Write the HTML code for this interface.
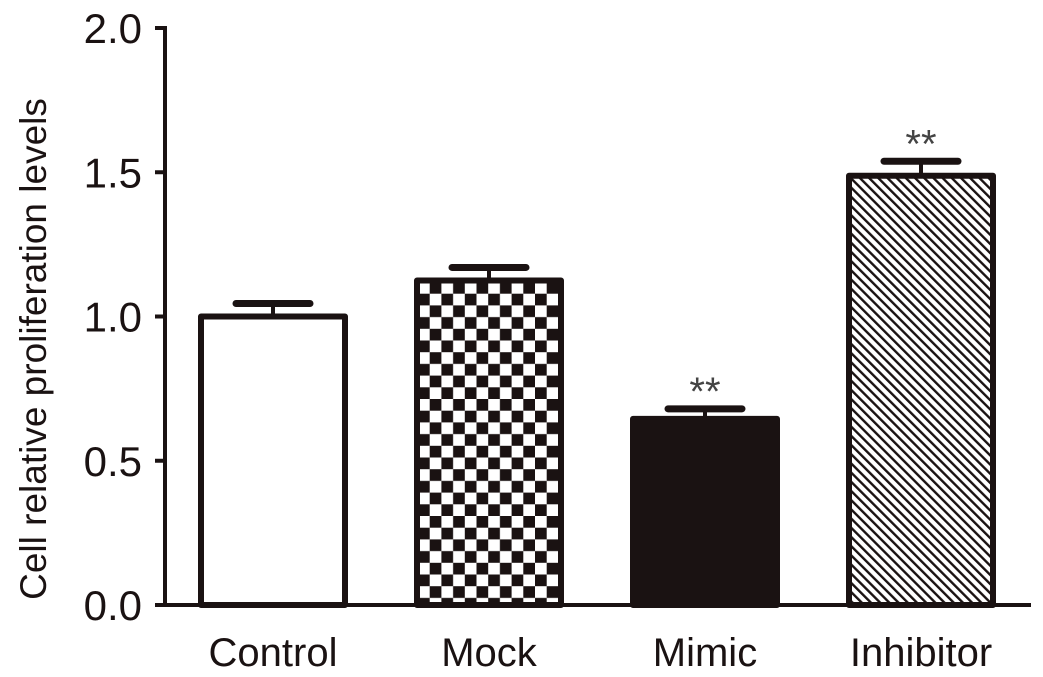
<!DOCTYPE html>
<html><head><meta charset="utf-8"><style>
body{margin:0;background:#fff}
svg{display:block;font-family:"Liberation Sans",Arial,sans-serif}
</style></head><body>
<svg id="chart" width="1043" height="677" viewBox="0 0 1043 677">
<defs>
<pattern id="checker" width="23.4" height="23.4" patternUnits="userSpaceOnUse" x="418" y="282">
<rect width="23.4" height="23.4" fill="#fff"/>
<rect x="11.7" y="0" width="11.7" height="11.7" fill="#1a1212"/>
<rect x="0" y="11.7" width="11.7" height="11.7" fill="#1a1212"/>
</pattern>
<pattern id="hatch" width="6.5" height="6.5" patternUnits="userSpaceOnUse" patternTransform="rotate(-45)">
<rect width="6.5" height="6.5" fill="#fff"/>
<rect x="0" y="0" width="2.4" height="6.5" fill="#1a1212"/>
</pattern>
</defs>
<g id="plot"></g>
</svg>
<script>
const categories=["Control","Mock","Mimic","Inhibitor"];
const values=[1.0,1.125,0.645,1.488];
const errors=[0.045,0.045,0.035,0.05];
const stars=["","","**","**"];
const yTicks=[0,0.5,1.0,1.5,2.0];
const yTickLabels=["0.0","0.5","1.0","1.5","2.0"];
const fills=["#fff","url(#checker)","#1a1212","url(#hatch)"];
const x0=165,y0=605,unit=288.5,bandStart=165,band=216,barW=144;
const yScale=v=>y0-v*unit;
const xCenter=i=>bandStart+band*(i+0.5);
const ns="http://www.w3.org/2000/svg";
const g=document.getElementById('plot');
function mk(t,a){const e=document.createElementNS(ns,t);for(const k in a)e.setAttribute(k,a[k]);g.appendChild(e);return e;}
const C="#1a1212";
categories.forEach((c,i)=>{
 const cx=xCenter(i),top=yScale(values[i]),et=yScale(values[i]+errors[i]);
 const eb=mk('line',{x1:cx,x2:cx,y1:top,y2:et,stroke:C,'stroke-width':4});
 
 
 const cap=mk('line',{x1:cx-37,x2:cx+37,y1:et,y2:et,stroke:C,'stroke-width':7,'stroke-linecap':'round'});
 
 
 const r=mk('rect',{x:cx-barW/2,y:top,width:barW,height:y0-top,fill:fills[i],stroke:C,'stroke-width':6,'stroke-linejoin':'round'});
 
 
 const l=mk('text',{x:cx,y:666,'text-anchor':'middle','font-size':40,fill:C});
 l.textContent=c;
 
 
 if(stars[i]){const s=mk('text',{x:cx,y:et-4,'text-anchor':'middle','font-size':40,fill:'#444'});s.textContent=stars[i];
 
 }
});
const ya=mk('line',{x1:x0,x2:x0,y1:yScale(2)-2,y2:y0+2,stroke:C,'stroke-width':4});


const xa=mk('line',{x1:x0-2,x2:1031,y1:y0,y2:y0,stroke:C,'stroke-width':4});


yTicks.forEach((v,i)=>{
 const y=yScale(v);
 const t=mk('line',{x1:x0-10,x2:x0,y1:y,y2:y,stroke:C,'stroke-width':4});
 
 
 const l=mk('text',{x:x0-23,y:y+15,'text-anchor':'end','font-size':42,fill:C});
 l.textContent=yTickLabels[i];
 
 
});
const yt=mk('text',{x:0,y:0,transform:'translate(46,349) rotate(-90)','text-anchor':'middle','font-size':37,fill:C});
yt.textContent='Cell relative proliferation levels';


</script>
</body></html>
